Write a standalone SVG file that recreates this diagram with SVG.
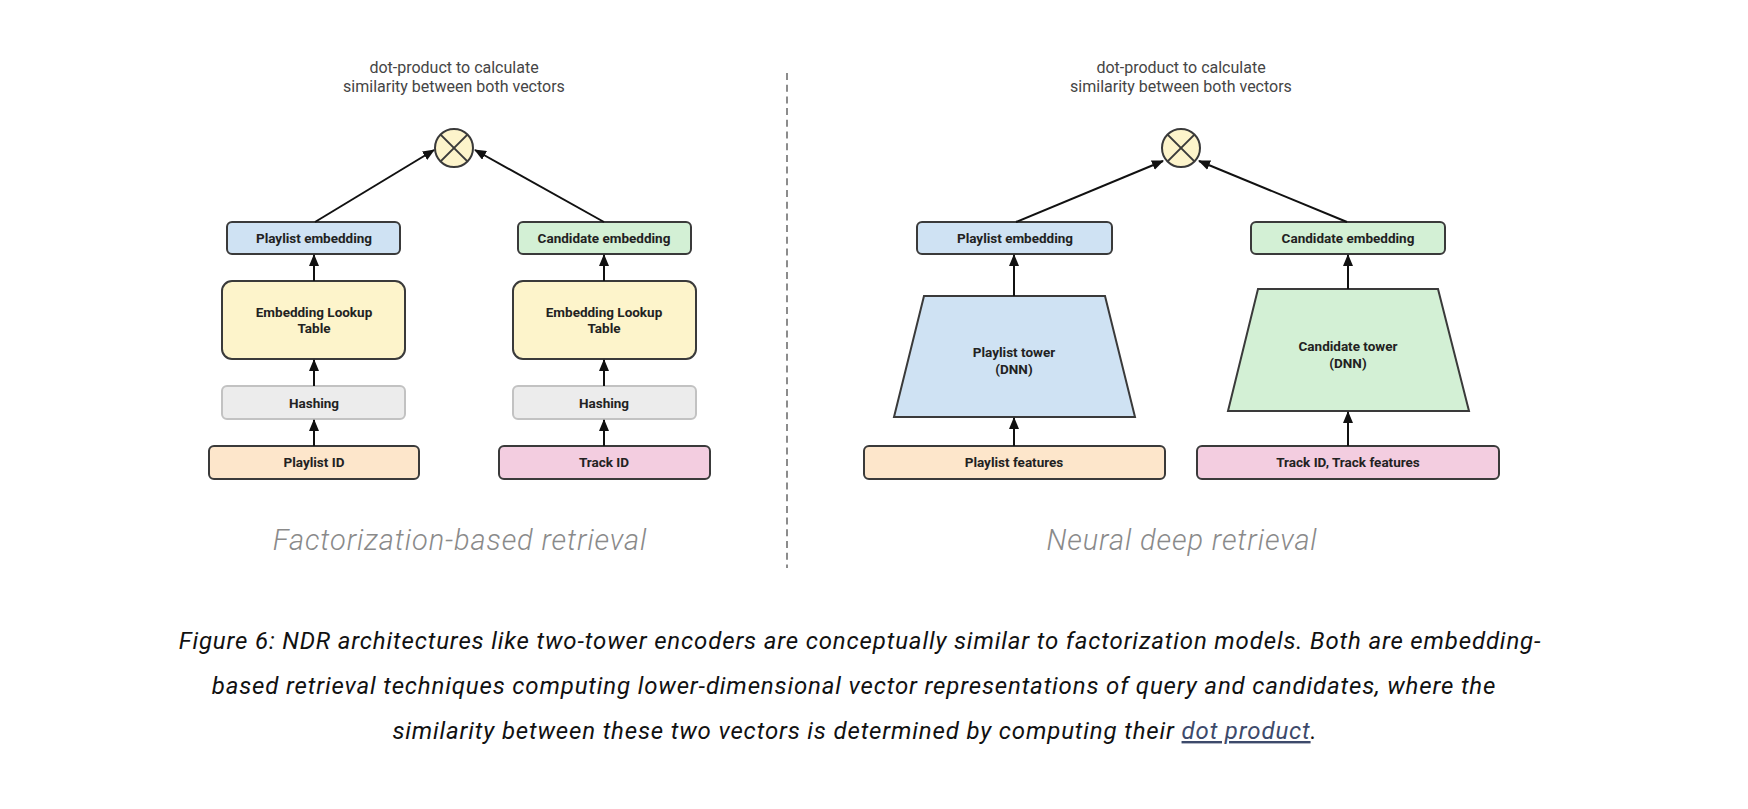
<svg xmlns="http://www.w3.org/2000/svg" width="1748" height="809" viewBox="0 0 1748 809">
<style>
.title{font-family:Roboto,"Liberation Sans",sans-serif;font-size:16px;fill:#454545;text-anchor:middle}
.lbl{font-family:Roboto,"Liberation Sans",sans-serif;font-size:13.5px;font-weight:700;fill:#222;text-anchor:middle}
.sub{font-family:Roboto,"Liberation Sans",sans-serif;font-size:29px;font-weight:300;font-style:italic;fill:#8a8a8a;text-anchor:middle;letter-spacing:0.9px}
.cap{font-family:Roboto,"Liberation Sans",sans-serif;font-size:24px;font-style:italic;fill:#111;text-anchor:middle;letter-spacing:0.85px}
.box{stroke:#3a3a3a;stroke-width:2}
.blue{fill:#cfe2f3}.green{fill:#d3f0d5}.yellow{fill:#fdf4cb}.orange{fill:#fde6cb}.pink{fill:#f3cde0}
.hash{fill:#ececec;stroke:#c2c2c2;stroke-width:2}
.conn{stroke:#111;stroke-width:2;fill:none;marker-end:url(#ah)}
</style>
<defs>
<marker id="ah" viewBox="0 0 12 10" markerWidth="12" markerHeight="10" refX="11" refY="5" orient="auto" markerUnits="userSpaceOnUse">
<path d="M0,0 L12,5 L0,10 z" fill="#111"/>
</marker>
</defs>
<rect width="1748" height="809" fill="#fff"/>

<line x1="787" y1="73" x2="787" y2="568" stroke="#8c8c8c" stroke-width="2" stroke-dasharray="7,4.7"/>

<g id="left-title"><text class="title" x="454" y="73">dot-product to calculate</text><text class="title" x="454" y="92">similarity between both vectors</text></g>
<g id="right-title"><text class="title" x="1181" y="73">dot-product to calculate</text><text class="title" x="1181" y="92">similarity between both vectors</text></g>

<g id="dot-left"><circle cx="454" cy="148" r="19" class="yellow box"/><line x1="440.6" y1="134.6" x2="467.4" y2="161.4" stroke="#3a3a3a" stroke-width="2"/><line x1="467.4" y1="134.6" x2="440.6" y2="161.4" stroke="#3a3a3a" stroke-width="2"/></g>
<g id="dot-right"><circle cx="1181" cy="148" r="19" class="yellow box"/><line x1="1167.6" y1="134.6" x2="1194.4" y2="161.4" stroke="#3a3a3a" stroke-width="2"/><line x1="1194.4" y1="134.6" x2="1167.6" y2="161.4" stroke="#3a3a3a" stroke-width="2"/></g>

<g id="l-playlist-emb"><rect x="227" y="222" width="173" height="32" rx="5" class="blue box"/><text class="lbl" x="314" y="243">Playlist embedding</text></g>
<g id="l-candidate-emb"><rect x="518" y="222" width="173" height="32" rx="5" class="green box"/><text class="lbl" x="604" y="243">Candidate embedding</text></g>
<g id="l-elt1"><rect x="222" y="281" width="183" height="78" rx="10" class="yellow box"/><text class="lbl" x="314" y="317">Embedding Lookup</text><text class="lbl" x="314" y="333">Table</text></g>
<g id="l-elt2"><rect x="513" y="281" width="183" height="78" rx="10" class="yellow box"/><text class="lbl" x="604" y="317">Embedding Lookup</text><text class="lbl" x="604" y="333">Table</text></g>
<g id="l-hash1"><rect x="222" y="386" width="183" height="33" rx="5" class="hash"/><text class="lbl" x="314" y="408">Hashing</text></g>
<g id="l-hash2"><rect x="513" y="386" width="183" height="33" rx="5" class="hash"/><text class="lbl" x="604" y="408">Hashing</text></g>
<g id="l-playlist-id"><rect x="209" y="446" width="210" height="33" rx="5" class="orange box"/><text class="lbl" x="314" y="467">Playlist ID</text></g>
<g id="l-track-id"><rect x="499" y="446" width="211" height="33" rx="5" class="pink box"/><text class="lbl" x="604" y="467">Track ID</text></g>

<g id="r-playlist-emb"><rect x="917" y="222" width="195" height="32" rx="5" class="blue box"/><text class="lbl" x="1015" y="243">Playlist embedding</text></g>
<g id="r-candidate-emb"><rect x="1251" y="222" width="194" height="32" rx="5" class="green box"/><text class="lbl" x="1348" y="243">Candidate embedding</text></g>
<g id="r-playlist-tower"><polygon points="924,296 1105,296 1135,417 894,417" class="blue box"/><text class="lbl" x="1014" y="357">Playlist tower</text><text class="lbl" x="1014" y="374">(DNN)</text></g>
<g id="r-candidate-tower"><polygon points="1258,289 1438,289 1469,411 1228,411" class="green box"/><text class="lbl" x="1348" y="351">Candidate tower</text><text class="lbl" x="1348" y="368">(DNN)</text></g>
<g id="r-playlist-feat"><rect x="864" y="446" width="301" height="33" rx="5" class="orange box"/><text class="lbl" x="1014" y="467">Playlist features</text></g>
<g id="r-track-feat"><rect x="1197" y="446" width="302" height="33" rx="5" class="pink box"/><text class="lbl" x="1348" y="467">Track ID, Track features</text></g>

<g id="connectors">
<line class="conn" x1="315" y1="222" x2="434" y2="150"/>
<line class="conn" x1="604" y1="222" x2="475" y2="150"/>
<line class="conn" x1="314" y1="281" x2="314" y2="255"/>
<line class="conn" x1="604" y1="281" x2="604" y2="255"/>
<line class="conn" x1="314" y1="386" x2="314" y2="360"/>
<line class="conn" x1="604" y1="386" x2="604" y2="360"/>
<line class="conn" x1="314" y1="446" x2="314" y2="420"/>
<line class="conn" x1="604" y1="446" x2="604" y2="420"/>
<line class="conn" x1="1016" y1="222" x2="1163" y2="161"/>
<line class="conn" x1="1347" y1="222" x2="1199" y2="161"/>
<line class="conn" x1="1014" y1="296" x2="1014" y2="255"/>
<line class="conn" x1="1348" y1="289" x2="1348" y2="255"/>
<line class="conn" x1="1014" y1="446" x2="1014" y2="418"/>
<line class="conn" x1="1348" y1="446" x2="1348" y2="412"/>
</g>

<text class="sub" x="460" y="550">Factorization-based retrieval</text>
<text class="sub" x="1182" y="550">Neural deep retrieval</text>

<g id="caption">
<text class="cap" x="860" y="649">Figure 6: NDR architectures like two-tower encoders are conceptually similar to factorization models. Both are embedding-</text>
<text class="cap" x="854" y="694">based retrieval techniques computing lower-dimensional vector representations of query and candidates, where the</text>
<text class="cap" x="855" y="739">similarity between these two vectors is determined by computing their <tspan fill="#3d4a6b" text-decoration="underline">dot product</tspan>.</text>
</g>
</svg>
